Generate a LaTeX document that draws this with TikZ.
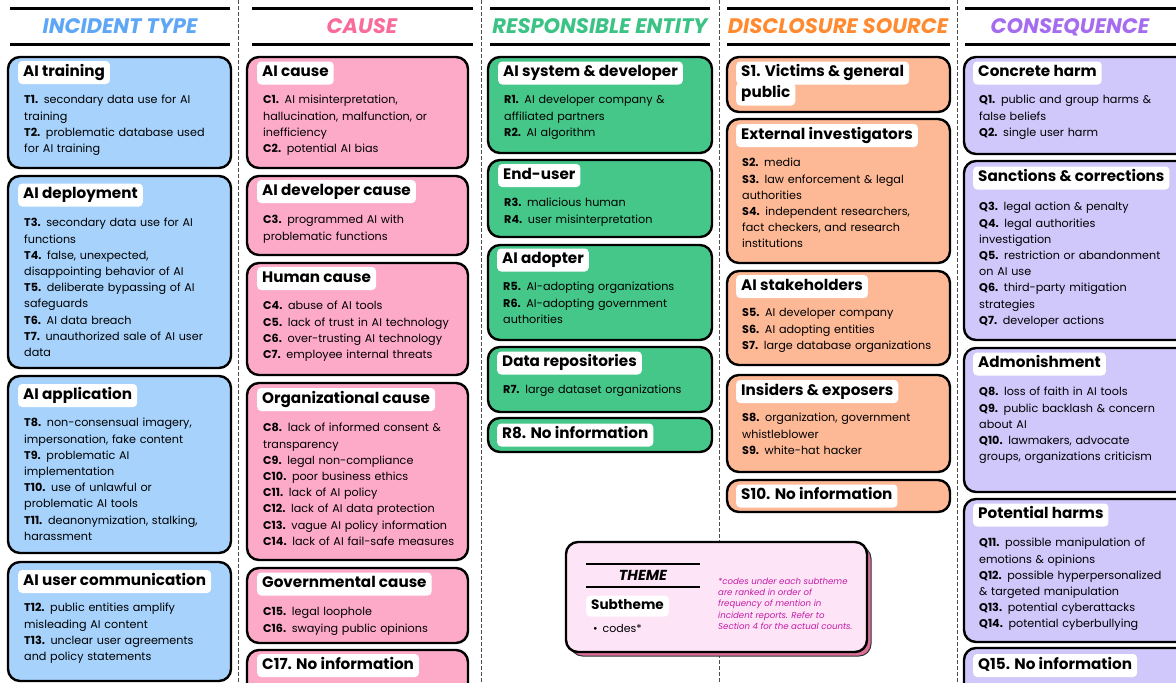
\documentclass[tikz,border=0pt]{standalone}
\usepackage{fontspec}
\setmainfont{Poppins}
\definecolor{blueF}{HTML}{A6D2FC}
\definecolor{blueT}{HTML}{5EA6F6}
\definecolor{pinkF}{HTML}{FDAAC9}
\definecolor{pinkT}{HTML}{F96B9B}
\definecolor{greenF}{HTML}{45C78A}
\definecolor{greenT}{HTML}{3BC385}
\definecolor{orangeF}{HTML}{FDB896}
\definecolor{orangeT}{HTML}{FF8A30}
\definecolor{purpleF}{HTML}{D0C8FB}
\definecolor{purpleT}{HTML}{A56CEF}
\definecolor{legF}{HTML}{FDE4F6}
\definecolor{legS}{HTML}{DA7098}
\definecolor{noteC}{HTML}{C41AA8}
\newcommand\bt[5]{\node[bodys,text width=#4pt] (#1) at (#2,{#3-7.74}) {\strut #5};}
\newcommand\lb[4]{\node[lab] (#1) at (#2,#3) {#4};}
\newcommand\cd[1]{\textbf{#1}}
\tikzset{
  panel/.style={draw=black, line width=2.4pt, rounded corners=12pt},
  lab/.style={fill=white, rounded corners=4pt, anchor=west, inner xsep=5pt, inner ysep=0pt,
    minimum height=23pt, text height=10.8pt, text depth=3pt,
    font=\fontsize{15.2}{16}\selectfont\bfseries},
  bodys/.style={anchor=north west, inner sep=0pt, align=left,
    font=\fontsize{11.2}{16.2}\selectfont},
  ttl/.style={font=\fontsize{21}{22}\selectfont\bfseries\itshape},
  rule/.style={line width=3pt, black},
  divider/.style={dash pattern=on 4pt off 2pt, line width=0.8pt, black!70}
}
\begin{document}
\begin{tikzpicture}[x=1pt,y=-1pt]
\useasboundingbox (0,0) rectangle (1176,683);
\clip (0,0) rectangle (1176,683);
\fill[white] (0,0) rectangle (1176,683);
% dividers
\foreach \xx in {238,481,719,957} \draw[divider] (\xx,0) -- (\xx,683);
% titles
\foreach \a/\b in {10/230,252/473,490/710,727/950,965/1176}{
  \draw[rule] (\a,8) -- (\b,8); \draw[rule] (\a,44) -- (\b,44);}
\node[ttl,text=blueT] (t1) at (120,26) {INCIDENT TYPE};
\node[ttl,text=pinkT] (t2) at (362,26) {CAUSE};
\node[ttl,text=greenT] (t3) at (600,26) {RESPONSIBLE ENTITY};
\node[ttl,text=orangeT] (t4) at (838,26) {DISCLOSURE SOURCE};
\node[ttl,text=purpleT] (t5) at (1070,27) {CONSEQUENCE};
% ---- column 1
\path[panel,fill=blueF] (8,57) rectangle (231,168);
\lb{l11}{18}{72.5}{AI training}
\bt{b11}{24}{100}{215}{\cd{T1.} secondary data use for AI\\training\\\cd{T2.} problematic database used\\for AI training}
\path[panel,fill=blueF] (8,176) rectangle (231,368);
\lb{l12}{18}{195}{AI deployment}
\bt{b12}{24}{223}{215}{\cd{T3.} secondary data use for AI\\functions\\\cd{T4.} false, unexpected,\\disappointing behavior of AI\\\cd{T5.} deliberate bypassing of AI\\safeguards\\\cd{T6.} AI data breach\\\cd{T7.} unauthorized sale of AI user\\data}
\path[panel,fill=blueF] (8,376) rectangle (231,553);
\lb{l13}{18}{395.5}{AI application}
\bt{b13}{24}{423}{215}{\cd{T8.} non-consensual imagery,\\impersonation, fake content\\\cd{T9.} problematic AI\\implementation\\\cd{T10.} use of unlawful or\\problematic AI tools\\\cd{T11.} deanonymization, stalking,\\harassment}
\path[panel,fill=blueF] (8,562) rectangle (231,681);
\lb{l14}{18}{581.5}{AI user communication}
\bt{b14}{24}{608}{215}{\cd{T12.} public entities amplify\\misleading AI content\\\cd{T13.} unclear user agreements\\and policy statements}
% ---- column 2
\path[panel,fill=pinkF] (247,57) rectangle (468,168);
\lb{l21}{257}{73}{AI cause}
\bt{b21}{263}{100}{215}{\cd{C1.} AI misinterpretation,\\hallucination, malfunction, or\\inefficiency\\\cd{C2.} potential AI bias}
\path[panel,fill=pinkF] (247,176) rectangle (468,255);
\lb{l22}{257}{191.5}{AI developer cause}
\bt{b22}{263}{220}{215}{\cd{C3.} programmed AI with\\problematic functions}
\path[panel,fill=pinkF] (247,263) rectangle (468,375);
\lb{l23}{257}{278.5}{Human cause}
\bt{b23}{263}{306}{215}{\cd{C4.} abuse of AI tools\\\cd{C5.} lack of trust in AI technology\\\cd{C6.} over-trusting AI technology\\\cd{C7.} employee internal threats}
\path[panel,fill=pinkF] (247,383) rectangle (468,560);
\lb{l24}{257}{399.5}{Organizational cause}
\bt{b24}{263}{428}{215}{\cd{C8.} lack of informed consent \&\\transparency\\\cd{C9.} legal non-compliance\\\cd{C10.} poor business ethics\\\cd{C11.} lack of AI policy\\\cd{C12.} lack of AI data protection\\\cd{C13.} vague AI policy information\\\cd{C14.} lack of AI fail-safe measures}
\path[panel,fill=pinkF] (247,568) rectangle (468,643);
\lb{l25}{257}{584}{Governmental cause}
\bt{b25}{263}{612}{215}{\cd{C15.} legal loophole\\\cd{C16.} swaying public opinions}
\path[panel,fill=pinkF] (247,650) rectangle (468,695);
\lb{l26}{257}{665.5}{C17. No information}
% ---- column 3
\path[panel,fill=greenF] (488,57) rectangle (712,153);
\lb{l31}{498}{73}{AI system \& developer}
\bt{b31}{504}{100}{215}{\cd{R1.} AI developer company \&\\affiliated partners\\\cd{R2.} AI algorithm}
\path[panel,fill=greenF] (488,160) rectangle (712,237);
\lb{l32}{498}{175.5}{End-user}
\bt{b32}{504}{203}{215}{\cd{R3.} malicious human\\\cd{R4.} user misinterpretation}
\path[panel,fill=greenF] (488,245) rectangle (712,340);
\lb{l33}{497}{260}{AI adopter}
\bt{b33}{503}{287}{215}{\cd{R5.} AI-adopting organizations\\\cd{R6.} AI-adopting government\\authorities}
\path[panel,fill=greenF] (488,347) rectangle (712,412);
\lb{l34}{497}{363}{Data repositories}
\bt{b34}{503}{390}{215}{\cd{R7.} large dataset organizations}
\path[panel,fill=greenF] (488,418) rectangle (712,452);
\lb{l35}{497}{435}{R8. No information}
% ---- column 4
\path[panel,fill=orangeF] (727,57) rectangle (950,112);
\lb{l41a}{736}{73}{S1. Victims \& general}
\lb{l41b}{736}{94}{public}
\path[panel,fill=orangeF] (727,119) rectangle (950,263);
\lb{l42}{736}{135.5}{External investigators}
\bt{b42}{742}{163}{215}{\cd{S2.} media\\\cd{S3.} law enforcement \& legal\\authorities\\\cd{S4.} independent researchers,\\fact checkers, and research\\institutions}
\path[panel,fill=orangeF] (727,271) rectangle (950,365);
\lb{l43}{736}{286.5}{AI stakeholders}
\bt{b43}{742}{313}{215}{\cd{S5.} AI developer company\\\cd{S6.} AI adopting entities\\\cd{S7.} large database organizations}
\path[panel,fill=orangeF] (727,375) rectangle (950,472);
\lb{l44}{736}{391.5}{Insiders \& exposers}
\bt{b44}{742}{418}{215}{\cd{S8.} organization, government\\whistleblower\\\cd{S9.} white-hat hacker}
\path[panel,fill=orangeF] (727,480) rectangle (950,512);
\lb{l45}{736}{496}{S10. No information}
% ---- column 5
\path[panel,fill=purpleF] (964,57) rectangle (1192,154);
\lb{l51}{973}{73}{Concrete harm}
\bt{b51}{979}{100}{215}{\cd{Q1.} public and group harms \&\\false beliefs\\\cd{Q2.} single user harm}
\path[panel,fill=purpleF] (964,161) rectangle (1192,340);
\lb{l52}{973}{178}{Sanctions \& corrections}
\bt{b52}{979}{207}{215}{\cd{Q3.} legal action \& penalty\\\cd{Q4.} legal authorities\\investigation\\\cd{Q5.} restriction or abandonment\\on AI use\\\cd{Q6.} third-party mitigation\\strategies\\\cd{Q7.} developer actions}
\path[panel,fill=purpleF] (964,348) rectangle (1192,492);
\lb{l53}{973}{364}{Admonishment}
\bt{b53}{979}{392}{215}{\cd{Q8.} loss of faith in AI tools\\\cd{Q9.} public backlash \& concern\\about AI\\\cd{Q10.} lawmakers, advocate\\groups, organizations criticism}
\path[panel,fill=purpleF] (964,499) rectangle (1192,642);
\lb{l54}{973}{515}{Potential harms}
\bt{b54}{979}{543}{215}{\cd{Q11.} possible manipulation of\\emotions \& opinions\\\cd{Q12.} possible hyperpersonalized\\\& targeted manipulation\\\cd{Q13.} potential cyberattacks\\\cd{Q14.} potential cyberbullying}
\path[panel,fill=purpleF] (964,648) rectangle (1192,695);
\lb{l55}{973}{665.5}{Q15. No information}
% ---- legend
\path[fill=legS, draw=black!80, line width=1pt, rounded corners=12pt] (570.5,546.5) rectangle (871,656);
\path[panel,fill=legF] (566,542) rectangle (867,652);
\draw[line width=2pt] (586,564) -- (700,564);
\draw[line width=2pt] (586,587) -- (700,587);
\node[font=\fontsize{14.5}{15}\selectfont\bfseries\itshape] (lt) at (643,575.5) {THEME};
\node[lab, minimum height=21pt, font=\fontsize{13.6}{14}\selectfont\bfseries] (ls) at (586,606) {Subtheme};
\node[anchor=west, inner sep=0pt, font=\fontsize{11}{13}\selectfont] (lc) at (593,628) {\textbullet\hspace{5pt}codes*};
\node[anchor=north west, inner sep=0pt, align=left, text=noteC,
  font=\fontsize{8.6}{11.3}\selectfont\itshape] (ln) at (718,576) {\strut *codes under each subtheme\\are ranked in order of\\frequency of mention in\\incident reports. Refer to\\Section 4 for the actual counts.};
\end{tikzpicture}
\end{document}
